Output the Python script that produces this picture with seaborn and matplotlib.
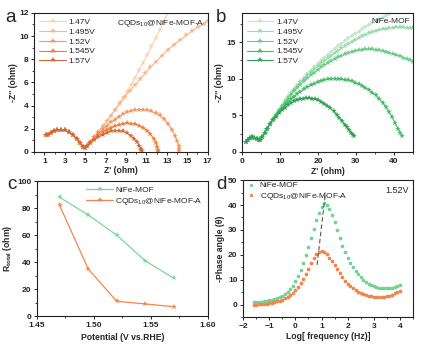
import numpy as np
import pandas as pd
import matplotlib
matplotlib.use("Agg")
import matplotlib.pyplot as plt
import seaborn as sns
from matplotlib.ticker import MultipleLocator

# ---------------- data ----------------
voltages = ["1.47V", "1.495V", "1.52V", "1.545V", "1.57V"]

# panel a (CQDs10@NiFe-MOF-A) common high-frequency arc
a_head_x = [1.2, 1.35, 1.6, 1.9, 2.2, 2.6, 3.0, 3.4, 3.8, 4.2, 4.5, 4.8, 5.0]
a_head_y = [1.5, 1.45, 1.65, 1.8, 1.9, 1.93, 1.88, 1.7, 1.45, 1.1, 0.75, 0.45, 0.35]

a_147_x = [5.2, 5.5, 5.9, 6.3, 6.7, 7.1, 7.5, 7.9, 8.3, 8.7, 9.1, 9.5, 9.9, 10.3, 10.7, 11.1, 11.5, 11.9, 12.3, 12.7, 13.1]
a_147_y = [0.5, 0.85, 1.3, 1.75, 2.2, 2.65, 3.1, 3.6, 4.1, 4.65, 5.2, 5.8, 6.4, 7.05, 7.7, 8.4, 9.1, 9.8, 10.5, 11.25, 12.0]
a_1495_x = [5.2, 5.5, 5.9, 6.3, 6.7, 7.1, 7.5, 7.9, 8.4, 8.9, 9.4, 9.9, 10.4, 10.9, 11.4, 11.9, 12.5, 13.1, 13.7, 14.3, 14.9, 15.5, 16.1, 16.6, 17.0]
a_1495_y = [0.5, 0.85, 1.3, 1.75, 2.2, 2.65, 3.1, 3.6, 4.2, 4.75, 5.3, 5.8, 6.3, 6.8, 7.3, 7.75, 8.3, 8.8, 9.25, 9.65, 10.05, 10.45, 10.8, 11.05, 11.3]
a_152_x = [5.2, 5.5, 5.9, 6.3, 6.7, 7.1, 7.5, 7.9, 8.3, 8.7, 9.1, 9.5, 9.9, 10.3, 10.7, 11.1, 11.5, 11.9, 12.3, 12.7, 13.1, 13.5, 13.8, 14.0, 14.15, 14.2, 14.22]
a_152_y = [0.5, 0.85, 1.25, 1.6, 1.95, 2.25, 2.55, 2.8, 3.05, 3.25, 3.42, 3.55, 3.63, 3.66, 3.65, 3.6, 3.5, 3.35, 3.15, 2.85, 2.45, 1.9, 1.4, 0.95, 0.55, 0.25, 0.05]
a_1545_x = [5.2, 5.5, 5.9, 6.3, 6.7, 7.1, 7.5, 7.9, 8.3, 8.7, 9.1, 9.5, 9.9, 10.3, 10.7, 11.1, 11.4, 11.7, 11.9, 12.05, 12.1, 12.12]
a_1545_y = [0.5, 0.8, 1.15, 1.45, 1.7, 1.92, 2.1, 2.25, 2.36, 2.43, 2.46, 2.45, 2.4, 2.28, 2.1, 1.82, 1.55, 1.15, 0.8, 0.45, 0.2, 0.05]
a_157_x = [5.2, 5.5, 5.9, 6.3, 6.7, 7.1, 7.5, 7.9, 8.3, 8.7, 9.1, 9.5, 9.8, 10.1, 10.3, 10.45, 10.5, 10.52]
a_157_y = [0.5, 0.75, 1.05, 1.3, 1.5, 1.67, 1.78, 1.85, 1.84, 1.77, 1.62, 1.38, 1.12, 0.82, 0.55, 0.3, 0.15, 0.05]

# panel b (NiFe-MOF) common head
b_head_x = [1.2, 1.6, 2.1, 2.7, 3.3, 3.9, 4.4, 4.9, 5.4]
b_head_y = [1.35, 1.6, 1.85, 2.0, 1.95, 1.75, 1.6, 1.65, 2.0]

b_long_x = [6.0, 6.7, 7.4, 8.1, 8.9, 9.7, 10.5, 11.3, 12.1, 12.9, 13.7, 14.5, 15.4, 16.3, 17.2, 18.1, 19.0, 19.9, 20.8, 21.7, 22.6, 23.5, 24.4,
            25.3, 26.2, 27.1, 28.0, 28.9, 29.8, 30.7, 31.6, 32.5, 33.4, 34.3, 35.2, 36.1, 37.0, 37.9, 38.8, 39.7, 40.6, 41.5, 42.4, 43.3, 44.2, 45.0]
b_147_y = [2.6, 3.2, 3.85, 4.5, 5.1, 5.7, 6.3, 6.9, 7.45, 8.0, 8.55, 9.05, 9.6, 10.1, 10.6, 11.1, 11.55, 12.0, 12.45, 12.9, 13.3, 13.7, 14.1,
           14.45, 14.8, 15.15, 15.5, 15.85, 16.15, 16.45, 16.75, 17.05, 17.35, 17.6, 17.85, 18.1, 18.35, 18.6, 18.85, 19.1, 19.3, 19.5, 19.7, 19.9, 20.1, 20.3]
b_1495_y = [2.6, 3.2, 3.85, 4.5, 5.1, 5.7, 6.3, 6.9, 7.45, 8.0, 8.5, 9.0, 9.5, 10.0, 10.45, 10.9, 11.3, 11.7, 12.1, 12.45, 12.8, 13.15, 13.5,
            13.85, 14.15, 14.45, 14.75, 15.05, 15.3, 15.55, 15.78, 16.0, 16.2, 16.38, 16.53, 16.66, 16.77, 16.86, 16.93, 16.98, 17.0, 17.0, 17.0, 16.98, 16.95, 16.9]
b_152_y = [2.6, 3.2, 3.85, 4.45, 5.05, 5.65, 6.2, 6.75, 7.3, 7.8, 8.3, 8.75, 9.2, 9.65, 10.05, 10.45, 10.85, 11.2, 11.55, 11.85, 12.15, 12.45, 12.7,
           12.95, 13.15, 13.35, 13.55, 13.7, 13.82, 13.92, 13.98, 14.02, 14.02, 14.0, 13.95, 13.88, 13.8, 13.68, 13.55, 13.4, 13.25, 13.08, 12.9, 12.7, 12.5, 12.3]
b_1545_x = [6.0, 6.7, 7.4, 8.1, 8.9, 9.7, 10.5, 11.3, 12.1, 12.9, 13.7, 14.5, 15.4, 16.3, 17.2, 18.1, 19.0, 19.9, 20.8, 21.7, 22.6, 23.5, 24.4,
            25.3, 26.2, 27.1, 28.0, 28.9, 29.8, 30.7, 31.6, 32.5, 33.4, 34.3, 35.2, 36.1, 37.0, 37.9, 38.7, 39.5, 40.3, 41.0, 41.6, 42.1]
b_1545_y = [2.6, 3.2, 3.8, 4.35, 4.9, 5.4, 5.9, 6.35, 6.8, 7.2, 7.55, 7.9, 8.25, 8.55, 8.85, 9.1, 9.35, 9.55, 9.72, 9.85, 9.95, 10.0, 10.02,
            10.0, 9.95, 9.88, 9.78, 9.65, 9.48, 9.28, 9.05, 8.78, 8.48, 8.12, 7.72, 7.25, 6.72, 6.1, 5.45, 4.75, 3.95, 3.2, 2.6, 2.2]
b_157_x = [6.0, 6.7, 7.4, 8.1, 8.9, 9.7, 10.5, 11.3, 12.1, 12.9, 13.7, 14.5, 15.3, 16.1, 16.9, 17.7, 18.5, 19.3, 20.1, 20.9, 21.7, 22.5, 23.3,
           24.1, 24.9, 25.6, 26.3, 27.0, 27.6, 28.2, 28.7, 29.2, 29.6]
b_157_y = [2.6, 3.2, 3.8, 4.3, 4.8, 5.3, 5.7, 6.05, 6.4, 6.65, 6.9, 7.05, 7.2, 7.28, 7.32, 7.32, 7.28, 7.2, 7.05, 6.85, 6.6, 6.3, 5.95,
           5.55, 5.1, 4.65, 4.2, 3.75, 3.35, 2.95, 2.65, 2.35, 2.2]

# panel c
potential = [1.47, 1.495, 1.52, 1.545, 1.57]
r_nife = [88, 75, 60, 41, 28]
r_cqds = [82, 35, 11, 9, 7]

# panel d
log_f = [-1.6, -1.5, -1.4, -1.3, -1.2, -1.1, -1.0, -0.9, -0.8, -0.7, -0.6, -0.5, -0.4, -0.3, -0.2, -0.1,
         0.0, 0.1, 0.2, 0.3, 0.4, 0.5, 0.6, 0.7, 0.8, 0.9, 1.0, 1.1, 1.2, 1.3, 1.4, 1.5, 1.6, 1.7, 1.8, 1.9,
         2.0, 2.1, 2.2, 2.3, 2.4, 2.5, 2.6, 2.7, 2.8, 2.9, 3.0, 3.1, 3.2, 3.3, 3.4, 3.5, 3.6, 3.7, 3.8, 3.9, 4.0]
phase_nife = [1.0, 1.0, 1.1, 1.2, 1.3, 1.5, 1.7, 1.9, 2.2, 2.5, 3.0, 3.6, 4.3, 5.2, 6.3, 7.7,
              9.4, 11.4, 13.8, 16.6, 19.8, 23.2, 26.8, 30.4, 33.8, 36.9, 39.3, 40.7, 40.2, 38.5, 36.0, 33.0, 29.8, 26.6, 23.6, 21.0,
              18.8, 16.8, 15.0, 13.5, 12.2, 11.0, 10.0, 9.2, 8.5, 8.0, 7.5, 7.1, 6.8, 6.6, 6.5, 6.5, 6.6, 6.8, 7.1, 7.5, 7.9]
phase_cqds = [0.0, 0.05, 0.1, 0.2, 0.3, 0.4, 0.6, 0.8, 1.0, 1.3, 1.6, 2.0, 2.5, 3.1, 3.8, 4.7,
              5.8, 7.1, 8.6, 10.4, 12.4, 14.5, 16.6, 18.6, 20.2, 21.3, 21.6, 21.2, 20.2, 18.9, 17.4, 15.8, 14.2, 12.6, 11.1, 9.7,
              8.4, 7.4, 6.5, 5.8, 5.2, 4.7, 4.3, 3.9, 3.6, 3.4, 3.2, 3.1, 3.0, 3.0, 3.1, 3.3, 3.6, 4.0, 4.5, 5.0, 5.6]
dash_x = [0.83, 1.15]
dash_y = [16.0, 45.0]

# ---------------- style ----------------
sns.set_style("ticks")
plt.rcParams['font.family'] = ['Liberation Sans', 'DejaVu Sans']
plt.rcParams['mathtext.fontset'] = 'custom'
plt.rcParams['mathtext.rm'] = 'Liberation Sans'
plt.rcParams['mathtext.it'] = 'Liberation Sans:italic'
plt.rcParams['mathtext.bf'] = 'Liberation Sans:bold'
plt.rcParams['axes.linewidth'] = 0.8
plt.rcParams['xtick.major.size'] = 2.5
plt.rcParams['ytick.major.size'] = 2.5
plt.rcParams['xtick.minor.size'] = 1.5
plt.rcParams['ytick.minor.size'] = 1.5
plt.rcParams['xtick.major.width'] = 0.7
plt.rcParams['ytick.major.width'] = 0.7
plt.rcParams['xtick.major.pad'] = 1.5
plt.rcParams['ytick.major.pad'] = 1.5

orange_cols = ['#fcd0b3', '#f8b48c', '#f4965c', '#ee7f3d', '#cf6a35']
green_cols = ['#bce8c7', '#98dbab', '#6ccb89', '#48b96c', '#2da353']

fig = plt.figure(figsize=(4.28, 3.47), dpi=100)
ax_a = fig.add_axes([0.080, 0.562, 0.405, 0.401])
ax_b = fig.add_axes([0.565, 0.562, 0.400, 0.401])
ax_c = fig.add_axes([0.086, 0.089, 0.400, 0.389])
ax_d = fig.add_axes([0.568, 0.086, 0.397, 0.395])

TICK_FS = 6
LAB_FS = 6.2

def style_axis(ax):
    for sp in ax.spines.values():
        sp.set_visible(True)
        sp.set_color('#222222')
    ax.tick_params(which='both', direction='out', top=False, right=False, labelsize=TICK_FS)
    for lab in ax.get_xticklabels() + ax.get_yticklabels():
        lab.set_fontweight('bold')

# ---- panel a ----
a_tails = [(a_147_x, a_147_y), (a_1495_x, a_1495_y), (a_152_x, a_152_y), (a_1545_x, a_1545_y), (a_157_x, a_157_y)]
for lab, col, (tx, ty) in zip(voltages, orange_cols, a_tails):
    xs = a_head_x + tx
    ys = a_head_y + ty
    sns.lineplot(x=xs, y=ys, ax=ax_a, color=col, label=lab, sort=False, estimator=None,
                 marker='*', markersize=3.8, markeredgewidth=0, linewidth=0.8)
ax_a.set_xlim(0, 17)
ax_a.set_ylim(0, 12)
ax_a.set_xticks([1, 3, 5, 7, 9, 11, 13, 15, 17])
ax_a.xaxis.set_minor_locator(MultipleLocator(1))
ax_a.set_yticks([0, 2, 4, 6, 8, 10, 12])
ax_a.yaxis.set_minor_locator(MultipleLocator(1))
ax_a.set_xlabel("Z' (ohm)", fontsize=LAB_FS, fontweight='bold', labelpad=1)
ax_a.set_ylabel("-Z'' (ohm)", fontsize=LAB_FS, fontweight='bold', labelpad=1)
ax_a.legend(loc='upper left', frameon=False, fontsize=6, handlelength=3.2, labelspacing=0.25,
            borderaxespad=0.2, handletextpad=0.3, bbox_to_anchor=(0.0, 1.0))
ax_a.text(0.985, 0.965, "CQDs$_{10}$@NiFe-MOF-A", transform=ax_a.transAxes, ha='right', va='top', fontsize=6)
style_axis(ax_a)

# ---- panel b ----
b_tails = [(b_long_x, b_147_y), (b_long_x, b_1495_y), (b_long_x, b_152_y), (b_1545_x, b_1545_y), (b_157_x, b_157_y)]
for lab, col, (tx, ty) in zip(voltages, green_cols, b_tails):
    xs = b_head_x + tx
    ys = b_head_y + ty
    sns.lineplot(x=xs, y=ys, ax=ax_b, color=col, label=lab, sort=False, estimator=None,
                 marker='*', markersize=3.8, markeredgewidth=0, linewidth=0.8)
ax_b.set_xlim(0, 45)
ax_b.set_ylim(0, 19)
ax_b.set_xticks([0, 10, 20, 30, 40])
ax_b.xaxis.set_minor_locator(MultipleLocator(5))
ax_b.set_yticks([0, 5, 10, 15])
ax_b.yaxis.set_minor_locator(MultipleLocator(2.5))
ax_b.set_xlabel("Z' (ohm)", fontsize=LAB_FS, fontweight='bold', labelpad=2)
ax_b.set_ylabel("-Z'' (ohm)", fontsize=LAB_FS, fontweight='bold', labelpad=2)
ax_b.legend(loc='upper left', frameon=False, fontsize=6, handlelength=3.2, labelspacing=0.25,
            borderaxespad=0.2, handletextpad=0.3, bbox_to_anchor=(0.0, 1.0))
ax_b.text(0.985, 0.965, "NiFe-MOF", transform=ax_b.transAxes, ha='right', va='top', fontsize=6)
style_axis(ax_b)

# ---- panel c ----
sns.lineplot(x=potential, y=r_nife, ax=ax_c, color='#7fd59b', label='NiFe-MOF', marker='*',
             markersize=4, markeredgewidth=0, linewidth=0.9)
sns.lineplot(x=potential, y=r_cqds, ax=ax_c, color='#f4864c', label='CQDs$_{10}$@NiFe-MOF-A', marker='*',
             markersize=4, markeredgewidth=0, linewidth=0.9)
ax_c.set_xlim(1.45, 1.60)
ax_c.set_ylim(0, 100)
ax_c.set_xticks([1.45, 1.50, 1.55, 1.60])
ax_c.set_xticklabels(['1.45', '1.50', '1.55', '1.60'])
ax_c.xaxis.set_minor_locator(MultipleLocator(0.025))
ax_c.set_yticks([0, 20, 40, 60, 80, 100])
ax_c.yaxis.set_minor_locator(MultipleLocator(10))
ax_c.set_xlabel("Potential (V vs.RHE)", fontsize=LAB_FS, fontweight='bold', labelpad=3)
ax_c.set_ylabel("R$_{\\mathbf{total}}$ (ohm)", fontsize=LAB_FS, fontweight='bold', labelpad=2)
ax_c.legend(loc='upper right', frameon=False, fontsize=6, handlelength=3.2, labelspacing=0.25,
            borderaxespad=0.2, handletextpad=0.3, bbox_to_anchor=(1.0, 1.0))
style_axis(ax_c)

# ---- panel d ----
sns.scatterplot(x=log_f, y=phase_nife, ax=ax_d, color='#6fd393', s=7, linewidth=0, label='NiFe-MOF')
sns.scatterplot(x=log_f, y=phase_cqds, ax=ax_d, color='#f3834a', s=7, linewidth=0, label='CQDs$_{10}$@NiFe-MOF-A')
sns.lineplot(x=dash_x, y=dash_y, ax=ax_d, color='#555555', linestyle=(0, (4, 2.5)), linewidth=0.8)
ax_d.set_xlim(-2, 4.5)
ax_d.set_ylim(-5, 50)
ax_d.set_xticks([-2, -1, 0, 1, 2, 3, 4])
ax_d.xaxis.set_minor_locator(MultipleLocator(0.5))
ax_d.set_yticks([0, 10, 20, 30, 40, 50])
ax_d.yaxis.set_minor_locator(MultipleLocator(5))
ax_d.set_xlabel("Log[ frequency (Hz)]", fontsize=LAB_FS, fontweight='bold', labelpad=2)
ax_d.set_ylabel("-Phase angle (\u03b8)", fontsize=LAB_FS, fontweight='bold', labelpad=2)
ax_d.legend(loc='upper left', frameon=False, fontsize=6, handlelength=1.0, labelspacing=0.15,
            borderaxespad=0.1, handletextpad=0.5, markerscale=0.9, bbox_to_anchor=(0.0, 1.02))
ax_d.text(0.975, 0.955, "1.52V", transform=ax_d.transAxes, ha='right', va='top', fontsize=6.5)
style_axis(ax_d)

# panel letters
fig.text(0.012, 0.975, "a", fontsize=13.5, va='top', ha='left')
fig.text(0.505, 0.975, "b", fontsize=13.5, va='top', ha='left')
fig.text(0.018, 0.492, "c", fontsize=13.5, va='top', ha='left')
fig.text(0.506, 0.492, "d", fontsize=13.5, va='top', ha='left')

fig.savefig("out.png", dpi=100)
